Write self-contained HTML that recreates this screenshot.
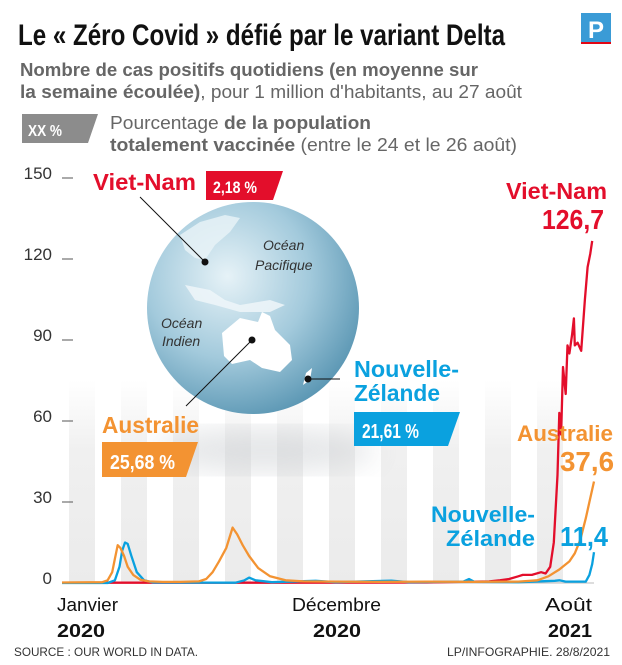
<!DOCTYPE html>
<html><head><meta charset="utf-8"><style>
html,body{margin:0;padding:0;background:#fff}
svg{display:block}
text{font-family:"Liberation Sans",sans-serif}
</style></head><body>
<svg id="chart" width="622" height="665" viewBox="0 0 622 665">
<defs>
<radialGradient id="globeG" cx="0.38" cy="0.35" r="0.7">
<stop offset="0" stop-color="#e6f2f7"/><stop offset="0.55" stop-color="#a3cadc"/><stop offset="1" stop-color="#5a96b3"/>
</radialGradient>
<linearGradient id="stripeG" x1="0" y1="0" x2="0" y2="1">
<stop offset="0" stop-color="#f0f0f0" stop-opacity="0"/><stop offset="0.35" stop-color="#f0f0f0" stop-opacity="1"/><stop offset="1" stop-color="#ebebeb"/>
</linearGradient>
<filter id="blur"><feGaussianBlur stdDeviation="14"/></filter>
</defs>
<g id="stripes"></g>
<ellipse cx="265" cy="450" rx="110" ry="22" fill="#c4c8cc" opacity="0.45" filter="url(#blur)"/>

<text x="18" y="45" font-size="30" font-weight="bold" textLength="487" lengthAdjust="spacingAndGlyphs" fill="#111">Le « Zéro Covid » défié par le variant Delta</text>
<g><rect x="581" y="13" width="30" height="29" fill="#3a9bd6"/><rect x="581" y="42" width="30" height="2" fill="#e30613"/><text x="596" y="38" font-size="24" font-weight="bold" font-family="Liberation Serif" fill="#fff" text-anchor="middle">P</text></g>
<text x="20" y="76" font-size="18" font-weight="bold" fill="#666" textLength="458" lengthAdjust="spacingAndGlyphs">Nombre de cas positifs quotidiens (en moyenne sur</text>
<text x="20" y="98" font-size="18" fill="#666" textLength="502" lengthAdjust="spacingAndGlyphs"><tspan font-weight="bold">la semaine écoulée)</tspan>, pour 1 million d'habitants, au 27 août</text>
<g>
<polygon points="22,114 98,114 88,143 22,143" fill="#8c8c8c"/>
<text x="28" y="136" font-size="16" font-weight="bold" fill="#fff" textLength="34" lengthAdjust="spacingAndGlyphs">XX %</text>
<text x="110" y="129" font-size="18" fill="#666" textLength="261" lengthAdjust="spacingAndGlyphs">Pourcentage <tspan font-weight="bold">de la population</tspan></text>
<text x="110" y="151" font-size="18" fill="#666" textLength="407" lengthAdjust="spacingAndGlyphs"><tspan font-weight="bold">totalement vaccinée</tspan> (entre le 24 et le 26 août)</text>
</g>
<g id="yaxis"></g>
<line x1="62" y1="583" x2="594" y2="583" stroke="#bbb" stroke-width="1"/>

<g>
<circle cx="253" cy="308" r="106" fill="url(#globeG)"/>
<path d="M222,333 L240,318 L258,322 L262,312 L270,316 L275,330 L290,345 L292,360 L280,372 L262,368 L250,360 L232,364 L224,356 Z" fill="#fff"/>
<path d="M180,235 L200,222 L225,215 L240,218 L230,232 L215,245 L205,260 L195,258 L185,250 Z" fill="#eaf4f8" opacity="0.8"/>
<path d="M185,285 L210,290 L225,300 L240,305 L270,300 L285,305 L270,312 L240,312 L215,305 L195,300 Z" fill="#eef6f9" opacity="0.85"/>
<path d="M306,373 L312,368 L310,380 L303,385 Z" fill="#fff"/>
<text x="263" y="250" font-size="14" font-style="italic" fill="#333">Océan</text>
<text x="255" y="270" font-size="14" font-style="italic" fill="#333">Pacifique</text>
<text x="161" y="328" font-size="14" font-style="italic" fill="#333">Océan</text>
<text x="162" y="346" font-size="14" font-style="italic" fill="#333">Indien</text>
</g>
<g>
<line x1="140" y1="197" x2="205" y2="262" stroke="#111" stroke-width="1"/><circle cx="205" cy="262" r="3.5" fill="#111"/>
<line x1="252" y1="340" x2="186" y2="406" stroke="#111" stroke-width="1"/><circle cx="252" cy="340" r="3.5" fill="#111"/>
<line x1="308" y1="379" x2="340" y2="379" stroke="#111" stroke-width="1"/><circle cx="308" cy="379" r="3.5" fill="#111"/>
<text x="93" y="190" font-size="23" font-weight="bold" fill="#e30e2b" textLength="103" lengthAdjust="spacingAndGlyphs">Viet-Nam</text>
<polygon points="206,171 283,171 273,200 206,200" fill="#e30e2b"/>
<text x="213" y="193" font-size="17" font-weight="bold" fill="#fff" textLength="44" lengthAdjust="spacingAndGlyphs">2,18 %</text>
<text x="354" y="377" font-size="23" font-weight="bold" fill="#0aa1df" textLength="105" lengthAdjust="spacingAndGlyphs">Nouvelle-</text>
<text x="354" y="401" font-size="23" font-weight="bold" fill="#0aa1df" textLength="86" lengthAdjust="spacingAndGlyphs">Zélande</text>
<polygon points="354,412 460,412 448,446 354,446" fill="#0aa1df"/>
<text x="362" y="438" font-size="20" font-weight="bold" fill="#fff" textLength="57" lengthAdjust="spacingAndGlyphs">21,61 %</text>
<text x="102" y="433" font-size="23" font-weight="bold" fill="#f39332" textLength="97" lengthAdjust="spacingAndGlyphs">Australie</text>
<polygon points="102,442 198,442 186,477 102,477" fill="#f39332"/>
<text x="110" y="469" font-size="20" font-weight="bold" fill="#fff" textLength="65" lengthAdjust="spacingAndGlyphs">25,68 %</text>
</g>

<g id="lines"></g>

<g>
<text x="506" y="199" font-size="23" font-weight="bold" fill="#e30e2b" textLength="101" lengthAdjust="spacingAndGlyphs">Viet-Nam</text>
<text x="542" y="229" font-size="28" font-weight="bold" fill="#e30e2b" textLength="62" lengthAdjust="spacingAndGlyphs">126,7</text>
<text x="517" y="441" font-size="22" font-weight="bold" fill="#f39332" textLength="96" lengthAdjust="spacingAndGlyphs">Australie</text>
<text x="560" y="471" font-size="28" font-weight="bold" fill="#f39332" textLength="54" lengthAdjust="spacingAndGlyphs">37,6</text>
<text x="431" y="522" font-size="22" font-weight="bold" fill="#0aa1df" textLength="104" lengthAdjust="spacingAndGlyphs">Nouvelle-</text>
<text x="446" y="546" font-size="22" font-weight="bold" fill="#0aa1df" textLength="89" lengthAdjust="spacingAndGlyphs">Zélande</text>
<text x="560" y="546" font-size="28" font-weight="bold" fill="#0aa1df" textLength="48" lengthAdjust="spacingAndGlyphs">11,4</text>
</g>
<g>
<text x="57" y="611" font-size="18" fill="#111" textLength="61" lengthAdjust="spacingAndGlyphs">Janvier</text>
<text x="57" y="637" font-size="18" font-weight="bold" fill="#111" textLength="48" lengthAdjust="spacingAndGlyphs">2020</text>
<text x="292" y="611" font-size="18" fill="#111" textLength="89" lengthAdjust="spacingAndGlyphs">Décembre</text>
<text x="313" y="637" font-size="18" font-weight="bold" fill="#111" textLength="48" lengthAdjust="spacingAndGlyphs">2020</text>
<text x="545" y="611" font-size="18" fill="#111" textLength="47" lengthAdjust="spacingAndGlyphs">Août</text>
<text x="548" y="637" font-size="18" font-weight="bold" fill="#111" textLength="44" lengthAdjust="spacingAndGlyphs">2021</text>
</g>
<text x="14" y="656" font-size="12" fill="#333" textLength="184" lengthAdjust="spacingAndGlyphs">SOURCE : OUR WORLD IN DATA.</text>
<text x="447" y="656" font-size="12" fill="#333" textLength="163" lengthAdjust="spacingAndGlyphs">LP/INFOGRAPHIE.  28/8/2021</text>
</svg>
<script>
// days since 22 Jan 2020
const yTicks = [0, 30, 60, 90, 120, 150];
const ausDays = [0, 44, 50, 55, 58, 61, 64, 68, 72, 78, 86, 95, 110, 130, 150, 158, 165, 172, 180, 187, 192, 198, 205, 215, 228, 245, 265, 300, 350, 400, 450, 500, 521, 533, 545, 556, 562, 568, 574, 578, 583];
const ausVals = [0.2, 0.3, 1, 4, 9, 14, 13, 10, 6, 3, 1.2, 0.6, 0.4, 0.4, 0.6, 1.5, 4, 8, 13, 20.5, 18, 14, 10, 5.5, 2.5, 1, 0.6, 0.5, 0.4, 0.5, 0.4, 0.5, 1, 2.5, 5, 8, 11, 16, 24, 30, 37.6];
const nzDays = [0, 50, 58, 63, 66, 69, 72, 76, 82, 90, 100, 190, 200, 205, 212, 230, 278, 300, 361, 380, 440, 446, 452, 500, 540, 545, 552, 574, 578, 581, 583];
const nzVals = [0, 0, 1, 6, 12, 15, 14.5, 10, 4, 1, 0.2, 0.1, 1, 2, 1, 0.3, 0.8, 0.3, 0.9, 0.3, 0.5, 1.5, 0.4, 0.3, 0.8, 1, 0.5, 0.5, 3, 7, 11.4];
const vnDays = [0, 200, 400, 468, 480, 490, 500, 505, 515, 525, 530, 535, 539, 543, 545, 547, 549, 552, 554, 556, 559, 561, 562, 565, 569, 573, 576, 579, 581];
const vnVals = [0.1, 0.1, 0.2, 0.6, 1, 1.5, 2.5, 3, 3, 4, 3.5, 6, 15, 40, 63, 55, 80, 70, 88, 85, 92, 98, 88, 89, 86, 105, 117, 122, 126.7];

const NS = "http://www.w3.org/2000/svg";
const X0 = 62, X1 = 594, DMAX = 583;
const Y0 = 583, PX = 2.7;
function xs(d){ return X0 + d / DMAX * (X1 - X0); }
function ys(v){ return Y0 - v * PX; }

const stripes = document.getElementById('stripes');
for (let i = 0; i < 10; i++) {
  const r = document.createElementNS(NS, 'rect');
  r.setAttribute('x', 69 + i * 52);
  r.setAttribute('y', 380);
  r.setAttribute('width', 26);
  r.setAttribute('height', 203);
  r.setAttribute('fill', 'url(#stripeG)');
  
  
  stripes.appendChild(r);
}

const yaxis = document.getElementById('yaxis');
yTicks.forEach(v => {
  const t = document.createElementNS(NS, 'text');
  t.setAttribute('x', 52); t.setAttribute('y', ys(v) + 1);
  t.setAttribute('text-anchor', 'end'); t.setAttribute('font-size', '17');
  t.setAttribute('fill', '#333');
  t.textContent = v;
  
  
  yaxis.appendChild(t);
  const l = document.createElementNS(NS, 'line');
  l.setAttribute('x1', 62); l.setAttribute('x2', 73);
  l.setAttribute('y1', ys(v)); l.setAttribute('y2', ys(v));
  l.setAttribute('stroke', '#555'); l.setAttribute('stroke-width', '1');
  
  
  yaxis.appendChild(l);
});

const lines = document.getElementById('lines');
function draw(days, vals, color, name){
  const p = document.createElementNS(NS, 'path');
  p.setAttribute('d', days.map((d, i) => (i ? 'L' : 'M') + xs(d).toFixed(1) + ',' + ys(vals[i]).toFixed(1)).join(' '));
  p.setAttribute('fill', 'none'); p.setAttribute('stroke', color);
  p.setAttribute('stroke-width', '2.3'); p.setAttribute('stroke-linejoin', 'round');
  
  
  lines.appendChild(p);
}
draw(vnDays, vnVals, '#e30e2b', 'vietnam-line');
draw(nzDays, nzVals, '#0aa1df', 'nz-line');
draw(ausDays, ausVals, '#f39332', 'australia-line');
</script>
</body></html>
